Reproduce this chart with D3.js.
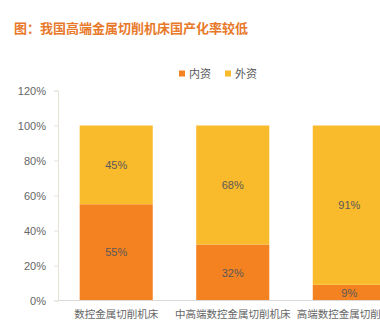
<!DOCTYPE html>
<html><head><meta charset="utf-8">
<script src="https://cdn.jsdelivr.net/npm/d3@7"></script>
<style>body{margin:0;background:#fff;}svg{display:block;font-family:"Noto Sans CJK SC","Microsoft YaHei",sans-serif;}</style>
</head><body>
<svg id="c" width="380" height="326"></svg>
<script>
const categories = ["数控金属切削机床","中高端数控金属切削机床","高端数控金属切削机床"];
const domestic = [55, 32, 9];
const foreign = [45, 68, 91];
const seriesNames = ["内资","外资"];
const yTicks = [0,20,40,60,80,100,120];
const colors = ["#F58220","#F9BA2B"];

(function(){
const svg = d3.select("#c");
const mLeft = 58, mBottom = 300.5, mTop = 90.5;
const x = d3.scaleBand().domain(categories).range([mLeft, 407.5]).paddingInner(0.373).paddingOuter(0.186);
const y = d3.scaleLinear().domain([0,120]).range([mBottom, mTop]);

svg.append("text").attr("x",14).attr("y",33).attr("fill","#E8792A").attr("font-size",13).attr("font-weight","bold").text("图：我国高端金属切削机床国产化率较低");

const lg = svg.append("g");
[[179,0],[225,1]].forEach(([lx,i])=>{
  lg.append("rect").attr("x",lx).attr("y",70.5).attr("width",6).attr("height",6).attr("fill",colors[i]);
  lg.append("text").attr("x",lx+10).attr("y",78).attr("font-size",11).attr("fill","#595959").text(seriesNames[i]);
});

const yAxis = d3.axisLeft(y).tickValues(yTicks).tickFormat(d=>d+"%").tickSize(4).tickPadding(8);
const ga = svg.append("g").attr("transform",`translate(${mLeft},0)`).call(yAxis);
ga.select(".domain").attr("stroke","#E6E2D6");
ga.selectAll(".tick line").attr("stroke","#E6E2D6");
ga.selectAll(".tick text").attr("fill","#666").attr("font-size",11).attr("font-family","Liberation Sans, Arial, sans-serif");

const stackData = categories.map((c,i)=>({cat:c, d:domestic[i], f:foreign[i]}));
const stack = d3.stack().keys(["d","f"])(stackData);
stack.forEach((s,si)=>{
  svg.append("g").selectAll("rect").data(s).join("rect")
    .attr("x",d=>x(d.data.cat)).attr("width",x.bandwidth())
    .attr("y",d=>y(d[1])).attr("height",d=>y(d[0])-y(d[1]))
    .attr("fill",colors[si]);
  svg.append("g").selectAll("text").data(s).join("text")
    .attr("x",d=>x(d.data.cat)+x.bandwidth()/2)
    .attr("y",d=>(y(d[0])+y(d[1]))/2+4)
    .attr("text-anchor","middle").attr("font-size",11).attr("fill","#595959")
    .attr("font-family","Liberation Sans, Arial, sans-serif")
    .text(d=>(d[1]-d[0])+"%");
});

svg.append("line").attr("x1",mLeft).attr("x2",380).attr("y1",mBottom).attr("y2",mBottom).attr("stroke","#D9D9D9");
svg.append("g").selectAll("text").data(categories).join("text")
  .attr("x",d=>x(d)+x.bandwidth()/2).attr("y",318).attr("text-anchor","middle")
  .attr("font-size",10.5).attr("fill","#666").text(d=>d);
})();
</script>
</body></html>
